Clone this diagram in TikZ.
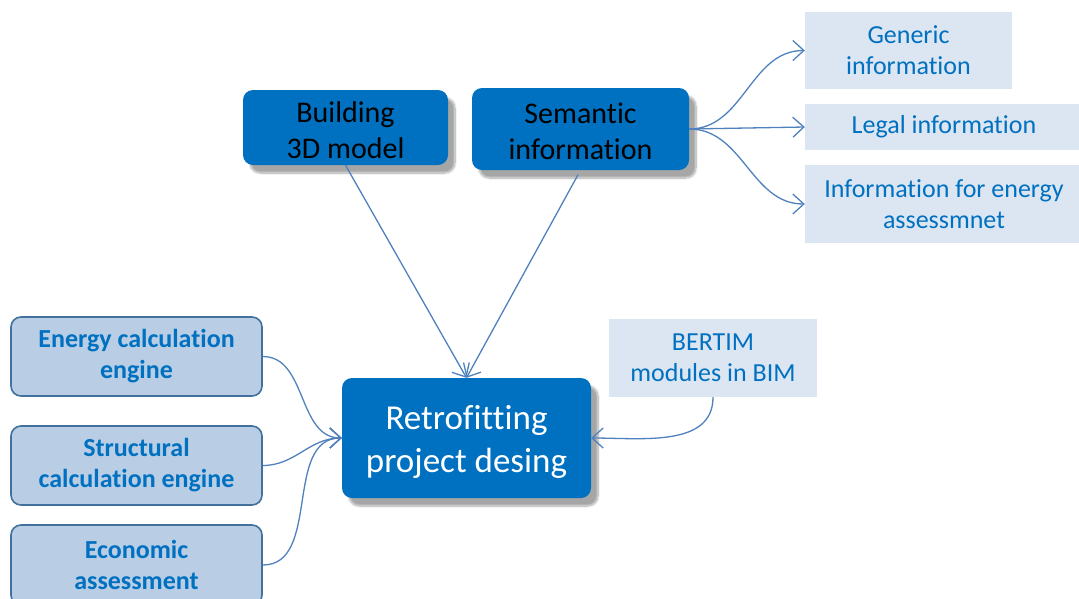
\documentclass[tikz,border=0pt]{standalone}
\usepackage{fontspec}
\setmainfont[Ligatures={NoCommon}]{Carlito}
\usetikzlibrary{arrows.meta,shadows.blur}
\definecolor{dblue}{HTML}{0070C0}
\definecolor{lblue}{HTML}{DCE6F2}
\definecolor{mblue}{HTML}{B9CDE5}
\definecolor{bord}{HTML}{41719C}
\definecolor{conn}{HTML}{4F81BD}
\tikzset{
  darkbox/.style={rounded corners=10pt, fill=dblue, draw=none, inner sep=0pt, align=center,
    blur shadow={shadow xshift=7pt, shadow yshift=-8pt, shadow blur steps=12, shadow opacity=35}},
  lightbox/.style={fill=lblue, draw=none, inner sep=0pt, align=center, text=dblue,
    font=\fontsize{26}{31}\selectfont},
  midbox/.style={rounded corners=10pt, fill=mblue, draw=bord, line width=1.6pt, inner sep=0pt,
    align=center, text=dblue, font=\bfseries\fontsize{26}{31}\selectfont,
    minimum width=251pt, minimum height=79pt},
  conarrow/.style={draw=conn, line width=1.3pt, -{Straight Barb[length=11pt,width=20pt,line width=1.3pt]}},
}
\begin{document}
\begin{tikzpicture}[x=1pt,y=-1pt]
\useasboundingbox (0,0) rectangle (1079,598);
\begin{scope}
\clip (0,0) rectangle (1079,598);
% dark boxes
\node[darkbox, minimum width=205pt, minimum height=75pt, font=\fontsize{30}{36}\selectfont, text=black]
  (bld) at (345.5,127.5) {\rule{0pt}{26pt}Building\\3D model};
\node[darkbox, minimum width=217pt, minimum height=82pt, font=\fontsize{30}{36}\selectfont, text=black]
  (sem) at (580.5,129) {\rule{0pt}{26pt}Semantic\\information};
\node[darkbox, minimum width=249pt, minimum height=120pt, font=\fontsize{35}{43}\selectfont, text=white]
  (ret) at (466.5,438) {\rule{0pt}{32pt}Retrofitting\\project desing};
% light boxes
\node[lightbox, minimum width=207pt, minimum height=77pt] (gen) at (908.5,50.5) {Generic\\information};
\node[lightbox, minimum width=278pt, minimum height=46pt] (leg) at (944,127) {Legal information};
\node[lightbox, minimum width=278pt, minimum height=78pt] (ien) at (944,204) {Information for energy\\assessmnet};
\node[lightbox, minimum width=208pt, minimum height=78pt] (bert) at (713,358) {BERTIM\\modules in BIM};
% mid boxes
\node[midbox] (ene) at (136.5,356.5) {Energy calculation\\engine};
\node[midbox] (str) at (136.5,465.5) {Structural\\calculation engine};
\node[midbox, minimum height=80pt] (eco) at (136.5,565) {Economic\\assessment};
% connectors
\draw[conarrow] (bld.south) -- (ret.north);
\draw[conarrow, shorten <=5pt] (sem.south) -- (ret.north);
\draw[conarrow] (sem.east) to[out=0,in=180] (gen.west);
\draw[conarrow] (sem.east) -- (leg.west);
\draw[conarrow] (sem.east) to[out=0,in=180] (ien.west);
\draw[conarrow] (ene.east) to[out=0,in=180] (ret.west);
\draw[conarrow] (str.east) to[out=0,in=180] (ret.west);
\draw[conarrow] (eco.east) to[out=0,in=180] (ret.west);
\draw[conarrow] (bert.south) to[out=-90,in=0] (ret.east);
\end{scope}
\end{tikzpicture}
\end{document}
